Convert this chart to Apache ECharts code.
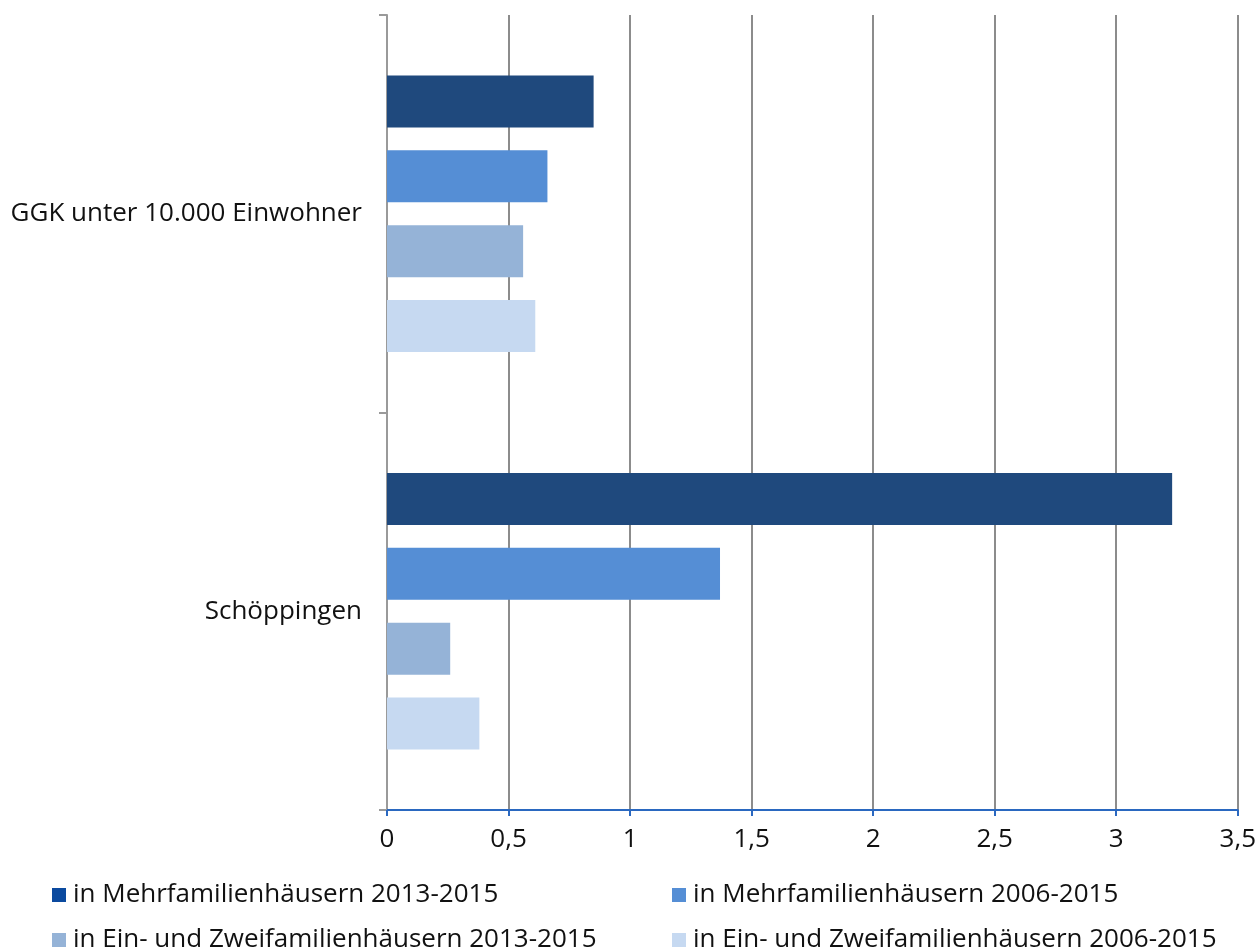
<!DOCTYPE html>
<html>
<head>
<meta charset="utf-8">
<script src="https://cdn.jsdelivr.net/npm/echarts@6/dist/echarts.min.js"></script>
<style>
  html, body { margin: 0; padding: 0; background: #fff; }
  #chart { width: 1259px; height: 951px; }
</style>
</head>
<body>
<div id="chart"></div>
<script>
// categories, bottom to top (ECharts category y axis starts at the bottom)
const categories = ['Schöppingen', 'GGK unter 10.000 Einwohner'];

const seriesNames = [
    'in Mehrfamilienhäusern 2013-2015',
    'in Mehrfamilienhäusern 2006-2015',
    'in Ein- und Zweifamilienhäusern 2013-2015',
    'in Ein- und Zweifamilienhäusern 2006-2015'
];

const mfh1315 = [3.23, 0.85];
const mfh0615 = [1.37, 0.66];
const ezfh1315 = [0.26, 0.56];
const ezfh0615 = [0.38, 0.61];

const xTicks = { min: 0, max: 3.5, interval: 0.5 };

const barColors = ['#1f497d', '#558ed5', '#95b3d7', '#c6d9f1'];
const legendColors = ['#0b4a9f', '#558ed5', '#95b3d7', '#c6d9f1'];

const font = 'Open Sans';
const fontSize = 26;

const chartDom = document.getElementById('chart');
const myChart = echarts.init(chartDom);

const values = [mfh1315, mfh0615, ezfh1315, ezfh0615];

const series = seriesNames.map((name, i) => ({
    name,
    type: 'bar',
    barWidth: 52,
    barGap: '44%',
    itemStyle: { color: barColors[i] },
    data: values[i]
}));

// one legend per item, laid out as two columns
const legendPos = [
    { left: 52, top: 882 },
    { left: 672, top: 882 },
    { left: 52, top: 927 },
    { left: 672, top: 927 }
];
const legend = seriesNames.map((name, i) => ({
    data: [{ name, itemStyle: { color: legendColors[i] } }],
    left: legendPos[i].left,
    top: legendPos[i].top,
    padding: 0,
    icon: 'rect',
    itemWidth: 14,
    itemHeight: 14,
    itemGap: 7,
    selectedMode: false,
    textStyle: { fontFamily: font, fontSize, color: '#111', padding: [0, 0, 0, 2] }
}));

const option = {
    backgroundColor: '#fff',
    animation: false,
    grid: { left: 387, right: 19, top: 15, bottom: 141 },
    legend,
    xAxis: {
        type: 'value',
        min: xTicks.min,
        max: xTicks.max,
        interval: xTicks.interval,
        axisLine: { show: true, lineStyle: { color: '#2a68c0', width: 2 } },
        axisTick: { show: true, length: 6, lineStyle: { color: '#2a68c0', width: 2 } },
        splitLine: { show: true, lineStyle: { color: '#8c8c8c', width: 2 } },
        axisLabel: {
            margin: 17,
            fontFamily: font,
            fontSize,
            color: '#111',
            formatter: (v) => String(v).replace('.', ',')
        }
    },
    yAxis: {
        type: 'category',
        data: categories,
        axisLine: { show: true, lineStyle: { color: '#9a9a9a', width: 2 } },
        axisTick: { show: true, length: 8, lineStyle: { color: '#9a9a9a', width: 2 } },
        axisLabel: {
            margin: 25,
            fontFamily: font,
            fontSize,
            color: '#111'
        }
    },
    series
};

myChart.setOption(option);
</script>
</body>
</html>
